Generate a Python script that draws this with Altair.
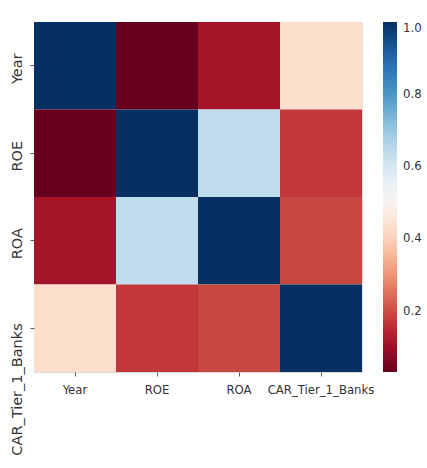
import altair as alt
import pandas as pd

# Correlation matrix of the bank indicators
variables = ["Year", "ROE", "ROA", "CAR_Tier_1_Banks"]
row_year = [1.00, 0.03, 0.11, 0.43]
row_roe = [0.03, 1.00, 0.64, 0.17]
row_roa = [0.11, 0.64, 1.00, 0.19]
row_car = [0.43, 0.17, 0.19, 1.00]
matrix = [row_year, row_roe, row_roa, row_car]

# Diverging red-blue palette (11 stops)
rdbu = ["#67001f", "#b2182b", "#d6604d", "#f4a582", "#fddbc7", "#f7f7f7",
        "#d1e5f0", "#92c5de", "#4393c3", "#2166ac", "#053061"]

records = []
for i, r in enumerate(variables):
    for j, c in enumerate(variables):
        records.append({"row": r, "col": c, "corr": matrix[i][j]})
df = pd.DataFrame(records)

vmin = min(min(r) for r in matrix)
vmax = 1.0
stops = [vmin + k * (vmax - vmin) / (len(rdbu) - 1) for k in range(len(rdbu))]

font_x = "DejaVu Sans Condensed"
font_y = "DejaVu Sans"
W, H = 328, 350
PAD_L, PAD_T = 34, 22

# the long last row label hangs down from its tick
y_align = alt.ExprRef(
    expr="datum.value == 'CAR_Tier_1_Banks' ? 'right' : 'center'"
)
y_offset = alt.ExprRef(
    expr="datum.value == 'CAR_Tier_1_Banks' ? -5 : 3"
)

chart = (
    alt.Chart(df)
    .mark_rect()
    .encode(
        x=alt.X(
            "col:N",
            sort=variables,
            title=None,
            axis=alt.Axis(
                labelAngle=0,
                labelFont=font_x,
                labelFontSize=13,
                labelColor="#333333",
                tickColor="#555555",
                tickSize=4,
                labelPadding=7,
                domain=False,
                labelLimit=200,
            ),
        ),
        y=alt.Y(
            "row:N",
            sort=variables,
            title=None,
            axis=alt.Axis(
                labelAngle=-90,
                labelAlign=y_align,
                labelOffset=y_offset,
                labelBaseline="bottom",
                labelFont=font_y,
                labelFontSize=14.5,
                labelColor="#333333",
                tickColor="#555555",
                tickSize=4,
                labelPadding=6,
                domain=False,
                labelLimit=200,
            ),
        ),
        color=alt.Color(
            "corr:Q",
            scale=alt.Scale(domain=stops, range=rdbu, interpolate="rgb"),
            legend=alt.Legend(
                title=None,
                orient="right",
                offset=21,
                gradientLength=350,
                gradientThickness=14,
                values=[0.2, 0.4, 0.6, 0.8, 1.0],
                format=".1f",
                labelFont=font_x,
                labelFontSize=13,
                labelColor="#333333",
                labelOffset=6,
                gradientStrokeWidth=0,
            ),
        ),
    )
    .properties(
        width=W,
        height=H,
        autosize=alt.AutoSizeParams(type="none"),
        padding={"left": PAD_L, "top": PAD_T,
                 "right": 427 - PAD_L - W, "bottom": 468 - PAD_T - H},
    )
    .configure_view(stroke=None)
    .configure(background="white")
)

chart.save("out.html", embed_options={"renderer": "svg", "actions": False})
